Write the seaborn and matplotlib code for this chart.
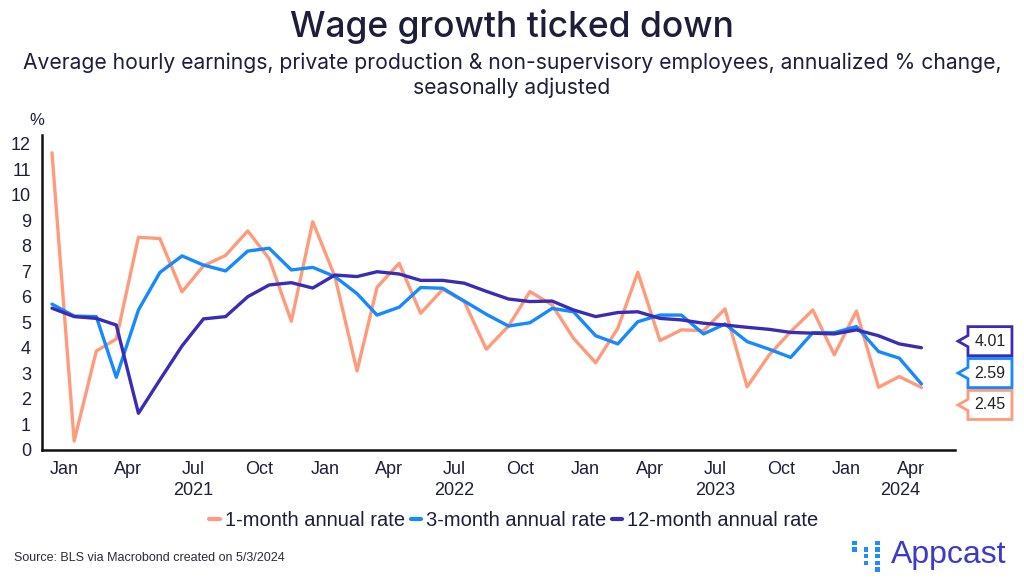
import numpy as np
import pandas as pd
import matplotlib
matplotlib.use("Agg")
import matplotlib.pyplot as plt
import matplotlib.dates as mdates
import matplotlib.transforms as mtransforms
from matplotlib.patches import Polygon, Rectangle
from matplotlib.lines import Line2D
import seaborn as sns

# ---------------- data ----------------
months = pd.date_range("2020-12-01", "2024-04-01", freq="MS")
series_names = ["1-month annual rate", "3-month annual rate", "12-month annual rate"]
one_month = [11.65, 0.35, 3.88, 4.35, 8.34, 8.29, 6.2, 7.22, 7.63, 8.59, 7.5, 5.05, 8.95,
             6.8, 3.1, 6.38, 7.32, 5.36, 6.3, 5.82, 3.95, 4.86, 6.21, 5.69, 4.38,
             3.42, 4.77, 6.97, 4.29, 4.71, 4.68, 5.53, 2.48, 3.73, 4.64, 5.49, 3.73,
             5.45, 2.46, 2.88, 2.45]
three_month = [5.72, 5.25, 5.23, 2.85, 5.49, 6.96, 7.61, 7.25, 7.02, 7.8, 7.91, 7.06, 7.16,
               6.8, 6.13, 5.29, 5.6, 6.37, 6.34, 5.84, 5.32, 4.86, 4.99, 5.55, 5.42,
               4.48, 4.16, 5.03, 5.29, 5.29, 4.55, 4.94, 4.25, 3.95, 3.63, 4.6, 4.6,
               4.84, 3.86, 3.6, 2.59]
twelve_month = [5.56, 5.23, 5.16, 4.9, 1.44, 2.75, 4.08, 5.14, 5.23, 6.01, 6.47, 6.56, 6.35,
                6.86, 6.8, 6.99, 6.9, 6.65, 6.65, 6.54, 6.22, 5.92, 5.82, 5.84, 5.49,
                5.23, 5.39, 5.42, 5.16, 5.1, 4.97, 4.9, 4.81, 4.73, 4.61, 4.58, 4.55,
                4.71, 4.48, 4.16, 4.01]
last_labels = ["2.45", "2.59", "4.01"]
y_ticks = list(range(0, 13))
years = [2021, 2022, 2023, 2024]

colors = {"1-month annual rate": "#FF9B7A",
          "3-month annual rate": "#1589FF",
          "12-month annual rate": "#3A2DB5"}

dates = months + pd.Timedelta(days=14)
df = pd.concat([
    pd.DataFrame({"date": dates, "value": v, "series": n})
    for n, v in zip(series_names, [one_month, three_month, twelve_month])
], ignore_index=True)

# ---------------- figure ----------------
sns.set_theme(style="white")
plt.rcParams["font.family"] = ["Liberation Sans", "DejaVu Sans"]
navy = "#1E1E3C"
title_font = ["Inter", "DejaVu Sans"]

fig = plt.figure(figsize=(10.24, 5.82), dpi=100)
ax = fig.add_axes([42 / 1024, 1 - 450 / 582, 913 / 1024, 315 / 582])

sns.lineplot(data=df, x="date", y="value", hue="series", hue_order=series_names,
             palette=colors, linewidth=2.4, ax=ax, legend=False)

ax.set_xlim(pd.Timestamp("2020-12-01"), pd.Timestamp("2024-06-01"))
ax.set_ylim(0, 12.35)
ax.set_yticks(y_ticks)
ax.set_xlabel("")
ax.set_ylabel("")
ax.xaxis.set_major_locator(mdates.MonthLocator(bymonth=[1, 4, 7, 10]))
ax.xaxis.set_major_formatter(mdates.DateFormatter("%b"))
for s in ["top", "right"]:
    ax.spines[s].set_visible(False)
for s in ["left", "bottom"]:
    ax.spines[s].set_color("#111111")
    ax.spines[s].set_linewidth(1.8)
ax.tick_params(axis="both", which="major", direction="out", length=5, width=1.2,
               color="#111111", labelsize=13, labelcolor=navy, pad=3)
ax.grid(False)

# year labels
tx = mtransforms.blended_transform_factory(ax.transData, ax.transAxes)
for yr in years:
    if yr == 2024:
        d = pd.Timestamp("2024-03-16")
    else:
        d = pd.Timestamp(f"{yr}-07-01")
    ax.text(d, -0.13, str(yr), transform=tx, ha="center", va="center",
            fontsize=13, color=navy)

# % label
ax.text(-0.006, 1.045, "%", transform=ax.transAxes, ha="center", va="center",
        fontsize=12, color=navy)

# end-value labels, stacked around their mean
last_vals = [one_month[-1], three_month[-1], twelve_month[-1]]
order = np.argsort(last_vals)
mean_v = np.mean(last_vals)
gap = 1.25
label_pos = {}
for rank, idx in enumerate(order):
    label_pos[idx] = mean_v + (rank - (len(order) - 1) / 2) * gap
bt = mtransforms.blended_transform_factory(ax.transAxes, ax.transData)
x_tip, x_left, x_right = 1.0033, 1.0142, 1.0624
half_h, notch = 0.57, 0.22
for idx, name in enumerate(series_names):
    c = label_pos[idx]
    poly = Polygon([(x_tip, c), (x_left, c + notch), (x_left, c + half_h),
                    (x_right, c + half_h), (x_right, c - half_h),
                    (x_left, c - half_h), (x_left, c - notch)],
                   closed=True, transform=bt, clip_on=False,
                   facecolor="white", edgecolor=colors[name], linewidth=2)
    ax.add_patch(poly)
    ax.text((x_left + x_right) / 2, c, last_labels[idx], transform=bt,
            ha="center", va="center", fontsize=11.5, color="#222222", clip_on=False)

# legend
handles = [Line2D([0], [0], color=colors[n], linewidth=3) for n in series_names]
fig.legend(handles, series_names, loc="center", bbox_to_anchor=(514 / 1024, 1 - 521 / 582),
           ncol=3, frameon=False, fontsize=14.5, handlelength=0.5, handletextpad=0.25,
           columnspacing=0.3, labelcolor=navy)

# titles
fig.text(0.5, 1 - 26 / 582, "Wage growth ticked down", ha="center", va="center",
         fontsize=25.5, color=navy, family=title_font, fontweight="medium")
fig.text(0.5, 1 - 63 / 582,
         "Average hourly earnings, private production & non-supervisory employees, annualized % change,",
         ha="center", va="center", fontsize=15.2, color=navy, family=title_font)
fig.text(0.5, 1 - 88 / 582, "seasonally adjusted", ha="center", va="center",
         fontsize=15.2, color=navy, family=title_font)

# source
fig.text(14 / 1024, 1 - 558 / 582, "Source: BLS via Macrobond created on 5/3/2024",
         ha="left", va="center", fontsize=9, color="#2A2A3A")

# logo
logo_blue = "#1E8BFF"
for col, rows in enumerate([[0, 1], [1, 2, 3], [0, 1, 2, 3, 4]]):
    for r in rows:
        fig.patches.append(Rectangle(((852 + col * 11.5) / 1024, 1 - (545 + r * 6.7) / 582),
                                     4.5 / 1024, 4.5 / 582, transform=fig.transFigure,
                                     facecolor=logo_blue, edgecolor="none"))
fig.text(891 / 1024, 1 - 563 / 582, "Appcast", ha="left", va="baseline",
         fontsize=23, color="#3B3BC8", family=["Liberation Sans", "DejaVu Sans"])

fig.savefig("out.png", dpi=100)
